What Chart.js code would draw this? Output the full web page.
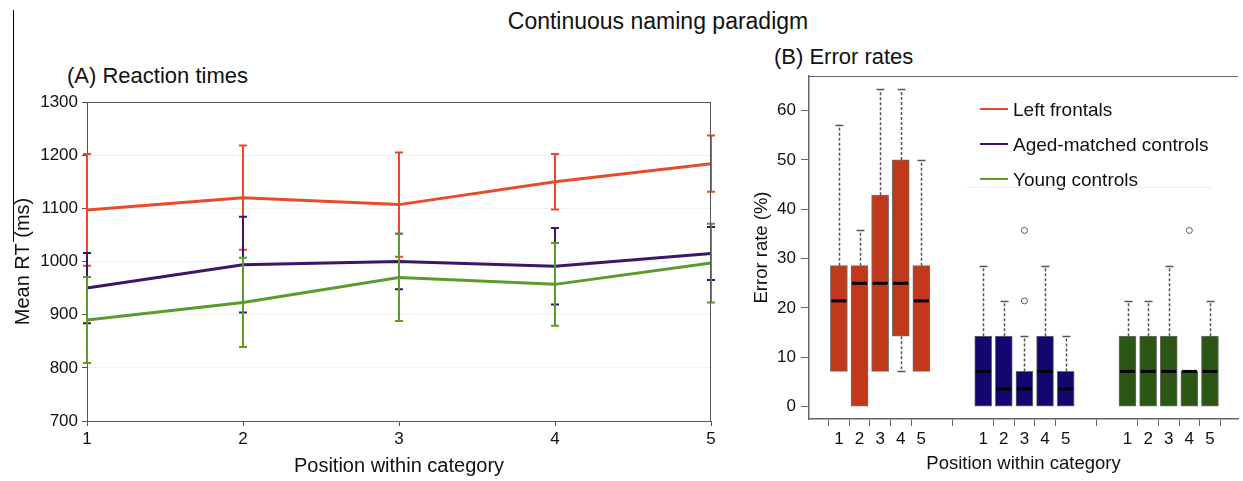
<!DOCTYPE html>
<html>
<head>
<meta charset="utf-8">
<title>Continuous naming paradigm</title>
<script src="https://cdn.jsdelivr.net/npm/chart.js@4.4.1/dist/chart.umd.min.js"></script>
<style>
  body { margin: 0; background: #fff; font-family: 'Liberation Sans', Arial, sans-serif; color: #111; }
  #pagina { position: relative; width: 1243px; height: 481px; overflow: hidden; background: #fff; }
  .testo { position: absolute; white-space: nowrap; line-height: 1; }
  canvas { position: absolute; top: 0; }
  .voce { position: absolute; white-space: nowrap; line-height: 1; font-size: 19px; }
  .segno { position: absolute; width: 28px; height: 2px; }
</style>
</head>
<body>
<div id="pagina">
  <div style="position:absolute; left:13px; top:10px; width:1px; height:232px; background:#000;"></div>
  <div class="testo" style="left:0; width:1316px; text-align:center; top:10px; font-size:23px;">Continuous naming paradigm</div>
  <div class="testo" style="left:67px; top:65px; font-size:22px;">(A) Reaction times</div>
  <div class="testo" style="left:774px; top:46px; font-size:22px;">(B) Error rates</div>
  <canvas id="graficoTempi" width="740" height="481" style="left:0;"></canvas>
  <canvas id="graficoErrori" width="503" height="481" style="left:740px;"></canvas>
  <div id="legenda"></div>
  <div style="position:absolute; left:967px; top:187px; width:245px; height:1px; background:#eeeeee;"></div>
</div>
<script>
// Dati: posizioni e gruppi
var posizioni = ['1', '2', '3', '4', '5'];
var nomiGruppi = ['Left frontals', 'Aged-matched controls', 'Young controls'];

// (A) tempi di reazione medi (ms) e barre di errore
var tempiFrontali = [1097, 1120, 1107, 1150, 1184];
var erroriFrontali = [105, 98, 98, 52, 53];
var tempiAnziani = [950, 994, 1000, 991, 1015];
var erroriAnziani = [66, 90, 52, 72, 50];
var tempiGiovani = [890, 923, 970, 957, 997];
var erroriGiovani = [81, 84, 82, 78, 74];
var tickTempi = [700, 800, 900, 1000, 1100, 1200, 1300];

// (B) tassi di errore (%): minimo, primo quartile, mediana, terzo quartile, massimo
var minFrontali = [7.14, 0, 7.14, 7.14, 7.14];
var q1Frontali = [7.14, 0, 7.14, 14.29, 7.14];
var medFrontali = [21.43, 25, 25, 25, 21.43];
var q3Frontali = [28.57, 28.57, 42.86, 50, 28.57];
var maxFrontali = [57.14, 35.71, 64.29, 64.29, 50];

var minAnziani = [0, 0, 0, 0, 0];
var q1Anziani = [0, 0, 0, 0, 0];
var medAnziani = [7.14, 3.57, 3.57, 7.14, 3.57];
var q3Anziani = [14.29, 14.29, 7.14, 14.29, 7.14];
var maxAnziani = [28.57, 21.43, 14.29, 28.57, 14.29];

var minGiovani = [0, 0, 0, 0, 0];
var q1Giovani = [0, 0, 0, 0, 0];
var medGiovani = [7.14, 7.14, 7.14, 7.14, 7.14];
var q3Giovani = [14.29, 14.29, 14.29, 7.14, 14.29];
var maxGiovani = [21.43, 21.43, 28.57, 7.14, 21.43];

// valori anomali: gruppo, posizione, valore
var anomaliGruppo = [1, 1, 2];
var anomaliPosizione = [3, 3, 4];
var anomaliValore = [21.43, 35.71, 35.71];
var tickErrori = [0, 10, 20, 30, 40, 50, 60];

// Colori
var coloriLinee = ['#e84a2a', '#3d1668', '#5b9b2b'];
var coloriScatole = ['#c1381a', '#12076e', '#2b5613'];

Chart.defaults.font.family = "'Liberation Sans', Arial, sans-serif";
Chart.defaults.color = '#111';

// posizione sull'asse x del pannello B (gruppi separati da due spazi)
function posizioneX(gruppo, indice) {
  return gruppo * 7 + indice + 1;
}

// Cornice attorno all'area del grafico
var pluginCornice = {
  id: 'cornice',
  afterDraw: function(chart, args, opts) {
    var a = chart.chartArea;
    var ctx = chart.ctx;
    ctx.save();
    ctx.strokeStyle = opts.colore;
    ctx.lineWidth = 1;
    ctx.beginPath();
    ctx.moveTo(Math.round(a.left), Math.round(a.top) + 0.5);
    ctx.lineTo(Math.round(a.right), Math.round(a.top) + 0.5);
    if (opts.destra) {
      ctx.moveTo(Math.round(a.right) - 0.5, Math.round(a.top));
      ctx.lineTo(Math.round(a.right) - 0.5, Math.round(a.bottom));
    }
    ctx.stroke();
    ctx.restore();
  }
};

// Barre di errore per il pannello A
var pluginBarreErrore = {
  id: 'barreErrore',
  afterDatasetsDraw: function(chart) {
    var ctx = chart.ctx;
    var sy = chart.scales.y;
    ctx.save();
    chart.data.datasets.forEach(function(ds, i) {
      var meta = chart.getDatasetMeta(i);
      ctx.strokeStyle = ds.borderColor;
      ctx.lineWidth = 2;
      meta.data.forEach(function(p, j) {
        var alto = sy.getPixelForValue(ds.data[j] + ds.errori[j]);
        var basso = sy.getPixelForValue(ds.data[j] - ds.errori[j]);
        ctx.beginPath();
        ctx.moveTo(p.x, alto);
        ctx.lineTo(p.x, basso);
        ctx.moveTo(p.x - 4, alto);
        ctx.lineTo(p.x + 4, alto);
        ctx.moveTo(p.x - 4, basso);
        ctx.lineTo(p.x + 4, basso);
        ctx.stroke();
      });
    });
    ctx.restore();
  }
};

// Baffi e mediane delle scatole nel pannello B
var pluginBaffi = {
  id: 'baffi',
  afterDatasetsDraw: function(chart) {
    var ctx = chart.ctx;
    var sy = chart.scales.y;
    ctx.save();
    chart.data.datasets.forEach(function(ds, i) {
      if (!ds.mediane) return;
      var meta = chart.getDatasetMeta(i);
      meta.data.forEach(function(barra, j) {
        var x = Math.round(barra.x) + 0.5;
        var w = barra.width;
        var q1 = ds.data[j].y[0];
        var q3 = ds.data[j].y[1];
        ctx.strokeStyle = '#555';
        ctx.lineWidth = 1.5;
        // baffo superiore
        if (ds.massimi[j] > q3) {
          ctx.setLineDash([3, 2]);
          ctx.beginPath();
          ctx.moveTo(x, sy.getPixelForValue(q3));
          ctx.lineTo(x, sy.getPixelForValue(ds.massimi[j]));
          ctx.stroke();
          ctx.setLineDash([]);
          ctx.beginPath();
          ctx.moveTo(x - 4, Math.round(sy.getPixelForValue(ds.massimi[j])) + 0.5);
          ctx.lineTo(x + 4, Math.round(sy.getPixelForValue(ds.massimi[j])) + 0.5);
          ctx.stroke();
        }
        // baffo inferiore
        if (ds.minimi[j] < q1) {
          ctx.setLineDash([3, 2]);
          ctx.beginPath();
          ctx.moveTo(x, sy.getPixelForValue(q1));
          ctx.lineTo(x, sy.getPixelForValue(ds.minimi[j]));
          ctx.stroke();
          ctx.setLineDash([]);
          ctx.beginPath();
          ctx.moveTo(x - 4, Math.round(sy.getPixelForValue(ds.minimi[j])) + 0.5);
          ctx.lineTo(x + 4, Math.round(sy.getPixelForValue(ds.minimi[j])) + 0.5);
          ctx.stroke();
        }
        // mediana
        ctx.strokeStyle = '#000';
        ctx.lineWidth = 3;
        var ym = sy.getPixelForValue(ds.mediane[j]);
        ctx.beginPath();
        ctx.moveTo(barra.x - w / 2 + 1, ym);
        ctx.lineTo(barra.x + w / 2 - 1, ym);
        ctx.stroke();
      });
    });
    ctx.restore();
  }
};

// Grafico A: tempi di reazione
var tempi = [tempiFrontali, tempiAnziani, tempiGiovani];
var errori = [erroriFrontali, erroriAnziani, erroriGiovani];
var datasetTempi = [];
for (var g = 0; g < 3; g++) {
  datasetTempi.push({
    label: nomiGruppi[g],
    data: tempi[g],
    errori: errori[g],
    borderColor: coloriLinee[g],
    backgroundColor: coloriLinee[g],
    borderWidth: 3,
    pointRadius: 0,
    tension: 0,
    fill: false
  });
}

var graficoTempi = new Chart(document.getElementById('graficoTempi').getContext('2d'), {
  type: 'line',
  data: { labels: posizioni, datasets: datasetTempi },
  options: {
    responsive: false,
    animation: false,
    layout: { padding: { left: 0, top: 102, right: 29, bottom: 0 } },
    plugins: {
      legend: { display: false },
      tooltip: { enabled: false },
      cornice: { colore: '#555', destra: true }
    },
    scales: {
      x: {
        offset: false,
        grid: { drawOnChartArea: false, drawTicks: true, tickLength: 5, tickColor: '#555' },
        border: { color: '#555', width: 1 },
        ticks: { padding: 3, font: { size: 17 }, color: '#111' },
        title: { display: true, text: 'Position within category', font: { size: 20 }, color: '#111', padding: { top: 0, bottom: 3 } },
        afterFit: function(s) { s.height = 60; }
      },
      y: {
        min: 700,
        max: 1300,
        afterBuildTicks: function(s) { s.ticks = tickTempi.map(function(v) { return { value: v }; }); },
        grid: { color: '#f0f0f0', drawTicks: true, tickLength: 5, tickColor: '#555' },
        border: { color: '#555', width: 1 },
        ticks: { padding: 4, font: { size: 17 }, color: '#111', callback: function(v) { return String(v); } },
        title: { display: true, text: 'Mean RT (ms)', font: { size: 20 }, color: '#111', padding: { top: 11, bottom: 0 } },
        afterFit: function(s) { s.width = 87; }
      }
    }
  },
  plugins: [pluginCornice, pluginBarreErrore]
});

// Grafico B: tassi di errore
var minimi = [minFrontali, minAnziani, minGiovani];
var primiQ = [q1Frontali, q1Anziani, q1Giovani];
var mediane = [medFrontali, medAnziani, medGiovani];
var terziQ = [q3Frontali, q3Anziani, q3Giovani];
var massimi = [maxFrontali, maxAnziani, maxGiovani];

var datasetErrori = [];
var tickPosizioni = [];
for (var g = 0; g < 3; g++) {
  var scatole = [];
  for (var i = 0; i < posizioni.length; i++) {
    scatole.push({ x: posizioneX(g, i), y: [primiQ[g][i], terziQ[g][i]] });
    tickPosizioni.push(posizioneX(g, i));
  }
  datasetErrori.push({
    type: 'bar',
    label: nomiGruppi[g],
    data: scatole,
    minimi: minimi[g],
    mediane: mediane[g],
    massimi: massimi[g],
    backgroundColor: coloriScatole[g],
    borderColor: '#6e6e6e',
    borderWidth: 1,
    borderSkipped: false,
    barThickness: 17,
    grouped: false
  });
}

var puntiAnomali = [];
for (var k = 0; k < anomaliValore.length; k++) {
  puntiAnomali.push({ x: posizioneX(anomaliGruppo[k], anomaliPosizione[k] - 1), y: anomaliValore[k] });
}
datasetErrori.push({
  type: 'scatter',
  label: 'Valori anomali',
  data: puntiAnomali,
  pointRadius: 3,
  pointBackgroundColor: '#fff',
  pointBorderColor: '#555',
  pointBorderWidth: 1
});

var graficoErrori = new Chart(document.getElementById('graficoErrori').getContext('2d'), {
  type: 'bar',
  data: { datasets: datasetErrori },
  options: {
    responsive: false,
    animation: false,
    layout: { padding: { left: 0, top: 76, right: 0, bottom: 0 } },
    plugins: {
      legend: { display: false },
      tooltip: { enabled: false },
      cornice: { colore: '#666', destra: false }
    },
    scales: {
      x: {
        type: 'linear',
        min: -0.45,
        max: 20.36,
        offset: false,
        afterBuildTicks: function(s) { s.ticks = tickPosizioni.map(function(v) { return { value: v }; }); },
        grid: { drawOnChartArea: false, drawTicks: true, tickLength: 7, tickColor: '#666' },
        border: { color: '#666', width: 1.5 },
        ticks: {
          autoSkip: false,
          padding: 3,
          font: { size: 17 },
          color: '#111',
          callback: function(v) { return posizioni[tickPosizioni.indexOf(v) % 5]; }
        },
        title: { display: true, text: 'Position within category', font: { size: 18.5 }, color: '#111', padding: { top: 0, bottom: 6 } },
        afterFit: function(s) { s.height = 62; }
      },
      y: {
        min: -2.5,
        max: 67,
        afterBuildTicks: function(s) { s.ticks = tickErrori.map(function(v) { return { value: v }; }); },
        grid: { drawOnChartArea: false, drawTicks: true, tickLength: 8, tickColor: '#666' },
        border: { color: '#666', width: 1.5 },
        ticks: { padding: 5, font: { size: 17 }, color: '#111' },
        title: { display: true, text: 'Error rate (%)', font: { size: 18.5 }, color: '#111', padding: { top: 11, bottom: 0 } },
        afterFit: function(s) { s.width = 69; }
      }
    }
  },
  plugins: [pluginCornice, pluginBaffi]
});

// Legenda dentro il pannello B
var legenda = document.getElementById('legenda');
for (var g = 0; g < nomiGruppi.length; g++) {
  var segno = document.createElement('div');
  segno.className = 'segno';
  segno.style.left = '980px';
  segno.style.top = (108 + g * 35) + 'px';
  segno.style.background = coloriLinee[g];
  legenda.appendChild(segno);
  var voce = document.createElement('div');
  voce.className = 'voce';
  voce.style.left = '1013px';
  voce.style.top = (100 + g * 35) + 'px';
  voce.textContent = nomiGruppi[g];
  legenda.appendChild(voce);
}
</script>
</body>
</html>
